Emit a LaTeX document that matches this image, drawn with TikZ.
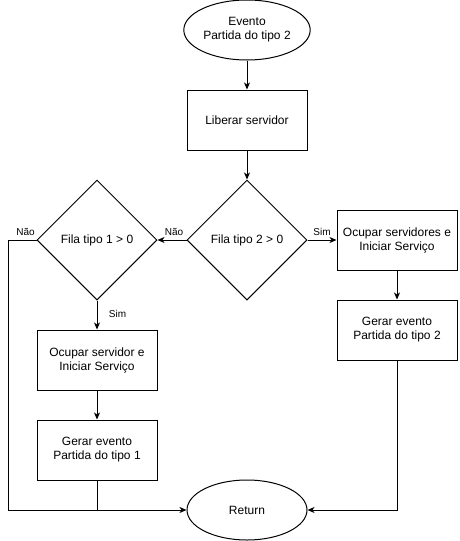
\documentclass[tikz,border=0pt]{standalone}
\usepackage{fontspec}
\setmainfont{Liberation Sans}
\usetikzlibrary{shapes.geometric,arrows.meta}
\begin{document}
\begin{tikzpicture}[x=1pt,y=-1pt,
    line width=1pt,
    box/.style={draw,rectangle,minimum width=120pt,minimum height=60pt,align=center,inner sep=2pt},
    term/.style={draw,ellipse,minimum width=120pt,minimum height=60pt,align=center,inner sep=1pt},
    cond/.style={draw,diamond,aspect=1,minimum width=120pt,minimum height=120pt,inner sep=0pt},
    arr/.style={-{Stealth[length=7pt,width=6pt,inset=2pt]}},
    lbl/.style={font=\fontsize{10}{12}\selectfont,inner sep=0pt},
    every node/.style={font=\fontsize{12}{14}\selectfont}]
  \useasboundingbox (0,0) rectangle (459,541);
  % main column
  \node[term] (evento) at (247,30) {Evento\\Partida do tipo 2};
  \node[box] (liberar) at (247,120) {Liberar servidor};
  \node[cond] (fila2) at (247,240) {Fila tipo 2 > 0};
  \node[term] (ret) at (247,510) {Return};
  % left branch
  \node[cond] (fila1) at (97,240) {Fila tipo 1 > 0};
  \node[box] (ocup1) at (97,360) {Ocupar servidor e\\Iniciar Serviço};
  \node[box] (gerar1) at (97,450) {Gerar evento\\Partida do tipo 1};
  % right branch
  \node[box] (ocup2) at (397,240) {Ocupar servidores e\\Iniciar Serviço};
  \node[box] (gerar2) at (397,330) {Gerar evento\\Partida do tipo 2};
  \coordinate (canto) at (8,240);
  % connectors
  \draw[arr] (evento) -- (liberar);
  \draw[arr] (liberar) -- (fila2);
  \draw[arr] (fila2.west) -- (fila1.east);
  \draw[arr] (fila2.east) -- (ocup2.west);
  \draw[arr] (ocup2) -- (gerar2);
  \draw[arr] (fila1.south) -- (ocup1);
  \draw[arr] (ocup1) -- (gerar1);
  \draw[arr] (fila1.west) -- (canto) |- (ret.west);
  \draw (gerar1.south) -- (gerar1.south |- ret.west);
  \draw[arr] (gerar2.south) |- (ret.east);
  % labels
  \node[lbl] (nao1) at (174,232) {Não};
  \node[lbl] (sim1) at (322,232) {Sim};
  \node[lbl] (nao2) at (25.5,232) {Não};
  \node[lbl] (sim2) at (117.5,314) {Sim};
\end{tikzpicture}
\end{document}
